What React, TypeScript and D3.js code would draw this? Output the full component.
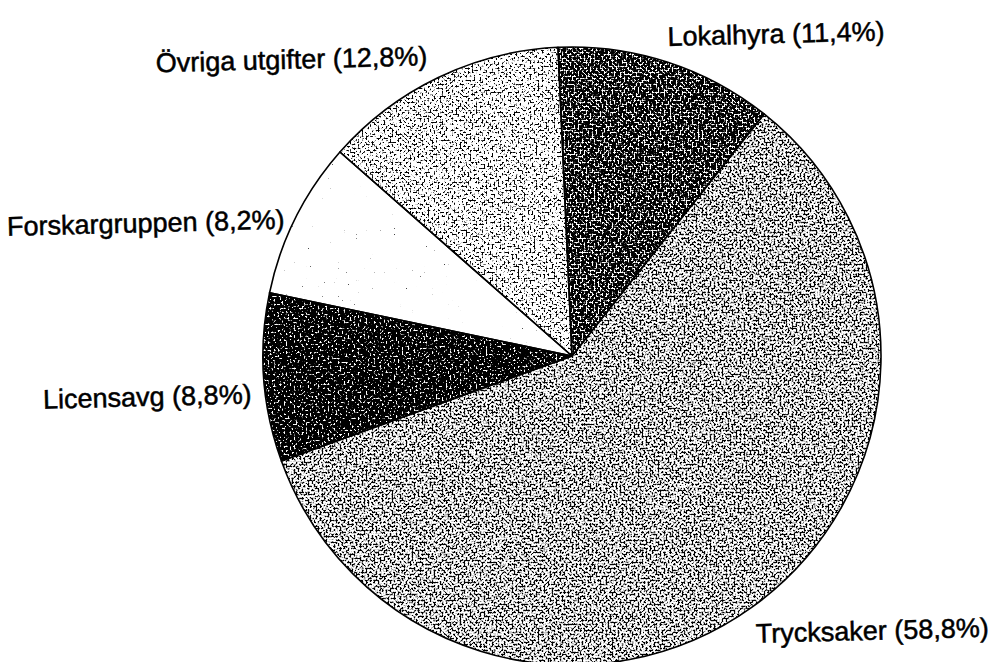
import * as d3 from "d3";

// Kostnadsfördelning, andel i procent
const categories = ["Lokalhyra", "Trycksaker", "Licensavg", "Forskargruppen", "Övriga utgifter"];
const shares = [11.4, 58.8, 8.8, 8.2, 12.8];
const shareLabels = ["11,4%", "58,8%", "8,8%", "8,2%", "12,8%"];

// how much black ink each slice's stipple carries (0..1 noise threshold)
const inkThreshold = [0.61, 0.52, 0.69, 0.235, 0.47];
// small hand nudges of the labels off the slice mid-angle
const labelNudge: [number, number][] = [
  [-4, 0],
  [-6, 4],
  [3, 5],
  [3, 19],
  [-4, 3],
];

const width = 989;
const height = 662;
const cx = 572;
const cy = 356;
const radius = 309;
const startAngle = (-2.6 * Math.PI) / 180;

export default function App() {
  const pie = d3
    .pie<number>()
    .sort(null)
    .value((d) => d)
    .startAngle(startAngle)
    .endAngle(startAngle + 2 * Math.PI);
  const arcs = pie(shares);

  const arc = d3.arc<d3.PieArcDatum<number>>().innerRadius(0).outerRadius(radius);
  const labelArc = d3
    .arc<d3.PieArcDatum<number>>()
    .innerRadius(radius * 1.05)
    .outerRadius(radius * 1.05);

  const k = 9;

  return (
    <svg
      width={width}
      height={height}
      style={{ position: "absolute", left: 0, top: 0, background: "#fff" }}
    >
      <defs>
        {arcs.map((a, i) => (
          <filter
            key={i}
            id={`ink-${i}`}
            x="0"
            y="0"
            width="100%"
            height="100%"
            colorInterpolationFilters="sRGB"
          >
            <feTurbulence
              type="fractalNoise"
              baseFrequency="0.5"
              numOctaves={2}
              seed={i * 7 + 3}
              result="noise"
            />
            <feColorMatrix
              in="noise"
              type="matrix"
              values={`0 0 0 0 0  0 0 0 0 0  0 0 0 0 0  ${-k} 0 0 0 ${k * inkThreshold[i]}`}
              result="dots"
            />
            <feComposite in="dots" in2="SourceAlpha" operator="in" />
          </filter>
        ))}
      </defs>

      <g transform={`translate(${cx},${cy})`}>
        {arcs.map((a, i) => (
          <g key={i}>
            <path d={arc(a) ?? ""} fill="#fff" />
            <path d={arc(a) ?? ""} fill="#000" filter={`url(#ink-${i})`} />
          </g>
        ))}
        {arcs.map((a, i) => (
          <path
            key={`edge-${i}`}
            d={arc(a) ?? ""}
            fill="none"
            stroke="#000"
            strokeWidth={1.6}
            strokeLinejoin="round"
          />
        ))}

        {arcs.map((a, i) => {
          const [lx, ly] = labelArc.centroid(a);
          const mid = (a.startAngle + a.endAngle) / 2;
          const right = Math.sin(mid) > 0;
          const lower = Math.cos(mid) < 0;
          const x = lx + labelNudge[i][0];
          const y = ly + labelNudge[i][1];
          return (
            <text
              key={`lab-${i}`}
              x={x}
              y={y}
              dy={lower ? "0.72em" : "-0.05em"}
              textAnchor={right ? "start" : "end"}
              transform={`rotate(-1.5 ${x} ${y})`}
              fontFamily="'Liberation Sans', Arial, sans-serif"
              fontSize={27}
              fill="#000"
              stroke="#000"
              strokeWidth={0.5}
            >
              {`${categories[i]} (${shareLabels[i]})`}
            </text>
          );
        })}
      </g>
    </svg>
  );
}
